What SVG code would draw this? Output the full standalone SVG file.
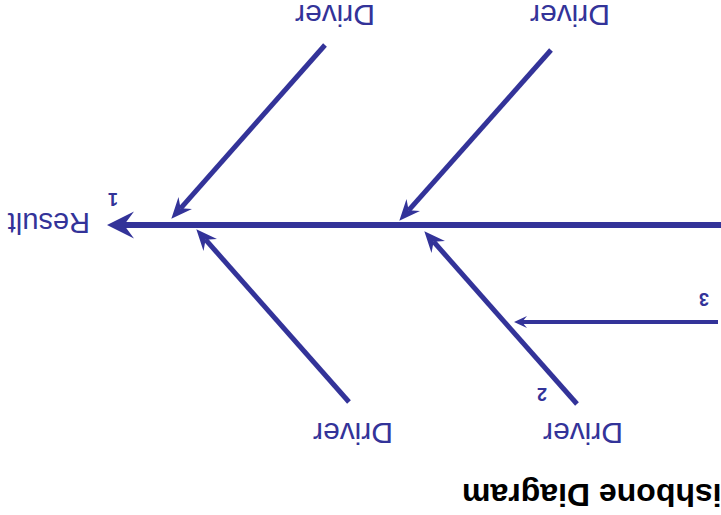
<svg xmlns="http://www.w3.org/2000/svg" width="721" height="515" viewBox="0 0 721 515">
<style>
.ln{stroke:#333399;fill:none;stroke-linecap:butt}
.lbl{font-family:"Liberation Sans",Arial,sans-serif;fill:#333399}
.num{font-family:"Liberation Sans",Arial,sans-serif;fill:#333399;font-weight:bold;font-size:18px}
.title{font-family:"Liberation Sans",Arial,sans-serif;fill:#000;font-weight:bold;font-size:32px}
</style>
<defs>
<marker id="bigHead" markerUnits="userSpaceOnUse" markerWidth="30" markerHeight="30" refX="10" refY="0" viewBox="0 -15 30 30" orient="auto" overflow="visible">
<path d="M27,0 L0,-13.5 L10,0 L0,13.5 Z" fill="#333399"/>
</marker>
<marker id="boneHead" markerUnits="userSpaceOnUse" markerWidth="24" markerHeight="22" refX="7" refY="0" viewBox="0 -11 24 22" orient="auto" overflow="visible">
<path d="M21,0 L0,-9 L7,0 L0,9 Z" fill="#333399"/>
</marker>
<marker id="smallHead" markerUnits="userSpaceOnUse" markerWidth="14" markerHeight="14" refX="5" refY="0" viewBox="0 -7 14 14" orient="auto" overflow="visible">
<path d="M13,0 L0,-6 L5,0 L0,6 Z" fill="#333399"/>
</marker>
</defs>
<g transform="rotate(180 360.5 257.5)">
<g id="connectors">
<line class="ln" x1="0" y1="290" x2="597" y2="290" stroke-width="6" marker-end="url(#bigHead)"/>
<line class="ln" x1="396" y1="470" x2="540.4" y2="306.7" stroke-width="5" marker-end="url(#boneHead)"/>
<line class="ln" x1="170" y1="465" x2="312.4" y2="304.7" stroke-width="5" marker-end="url(#boneHead)"/>
<line class="ln" x1="372" y1="113" x2="515.4" y2="275.3" stroke-width="5" marker-end="url(#boneHead)"/>
<line class="ln" x1="144" y1="111" x2="287.4" y2="273.3" stroke-width="5" marker-end="url(#boneHead)"/>
<line class="ln" x1="3" y1="193" x2="199" y2="193" stroke-width="4" marker-end="url(#smallHead)"/>
</g>
<g id="result"><text class="lbl" x="631" y="302" font-size="29">Result</text></g>
<g id="num1"><text class="num" x="603" y="322">1</text></g>
<g id="num2"><text class="num" x="174" y="127">2</text></g>
<g id="num3"><text class="num" x="12" y="222">3</text></g>
<g id="driver-top-left"><text class="lbl" x="346" y="510" font-size="30">Driver</text></g>
<g id="driver-top-right"><text class="lbl" x="111" y="510" font-size="30">Driver</text></g>
<g id="driver-bottom-left"><text class="lbl" x="328" y="92" font-size="30">Driver</text></g>
<g id="driver-bottom-right"><text class="lbl" x="98" y="92" font-size="30">Driver</text></g>
<g id="title"><text class="title" x="259" y="31" text-anchor="end">Fishbone Diagram</text></g>
</g>
</svg>
